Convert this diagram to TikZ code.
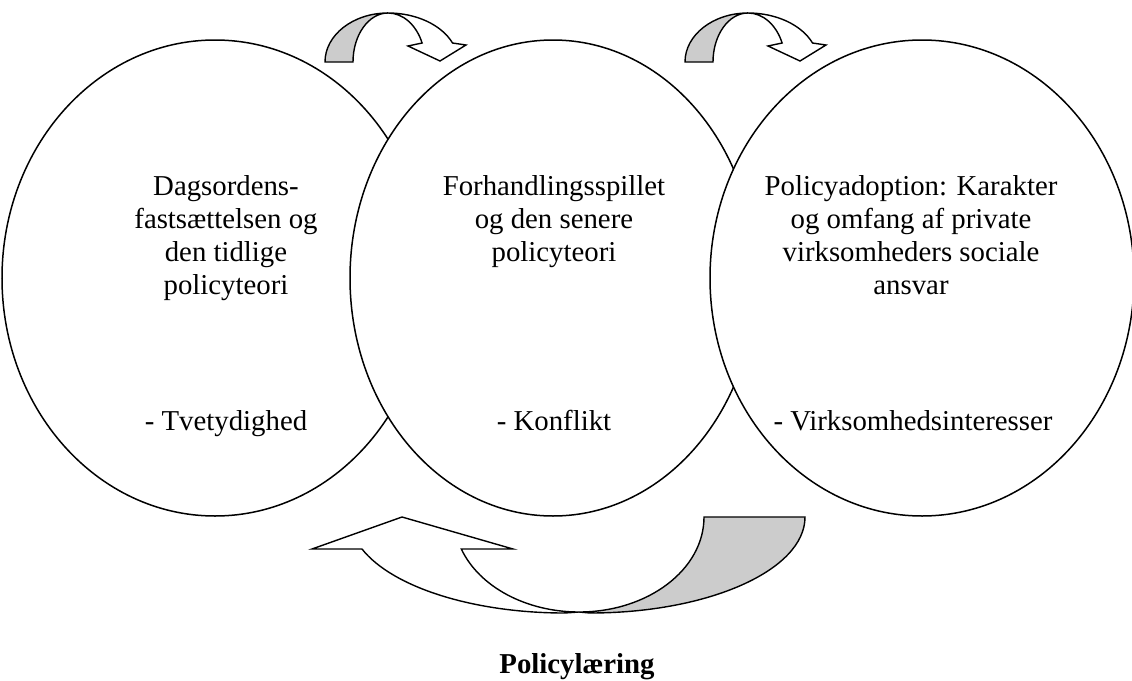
\documentclass[tikz,border=0pt]{standalone}
\usepackage{fontspec}
\setmainfont{Liberation Serif}
\usetikzlibrary{shapes.geometric}
\definecolor{bandgrey}{RGB}{204,204,204}
\begin{document}
\begin{tikzpicture}[x=1pt,y=-1pt,
  stage/.style={ellipse, draw=black, fill=white, line width=1.5pt, inner sep=0pt, outer sep=0pt},
  lbl/.style={align=center, font=\fontsize{28.8}{33.1}\selectfont, inner sep=0pt, anchor=base},
  band/.style={draw=black, line width=1.4pt, line join=miter},
]
\useasboundingbox (0,0) rectangle (1132,680);
\clip (0,0) rectangle (1132,680);
% stages
\node[stage, minimum width=426pt, minimum height=476pt] (left) at (215,278) {};
\node[stage, minimum width=406pt, minimum height=476pt] (mid) at (553,278) {};
\node[stage, minimum width=424pt, minimum height=476pt] (right) at (922,278) {};
% texts (base anchor = baseline of the last line)
\node[lbl] (t1) at (226,294.3) {Dagsordens-\\fastsættelsen og\\den tidlige\\policyteori};
\node[lbl] (t2) at (554,261.2) {Forhandlingsspillet\\og den senere\\policyteori};
\node[lbl] (t3) at (911,294.3) {Policyadoption: Karakter\\og omfang af private\\virksomheders sociale\\ansvar};
\node[lbl] (d1) at (226,430) {- Tvetydighed};
\node[lbl] (d2) at (554,430) {- Konflikt};
\node[lbl] (d3) at (913,430) {- Virksomhedsinteresser};
\node[lbl, font=\bfseries\fontsize{28.8}{33.1}\selectfont] (pl) at (577,673) {Policylæring};
% top curved arrows
\foreach \dx in {0,360}{
\begin{scope}[xshift=\dx pt]
\path[band, fill=bandgrey] (325,62) arc[start angle=180, end angle=90, x radius=63pt, y radius=49pt]
   arc[start angle=90, end angle=180, x radius=35pt, y radius=49pt] -- cycle;
\path[band, fill=white] (388,13) arc[start angle=90, end angle=22.8, x radius=70pt, y radius=49pt]
   -- (466,45) -- (440,61) -- (408,46) -- (422.1,43)
   arc[start angle=22.8, end angle=90, x radius=37pt, y radius=49pt] -- cycle;
\end{scope}
}
% bottom curved arrow (policy learning)
\path[band, fill=bandgrey] (704,517) -- (805,517)
   arc[start angle=0, end angle=-90, x radius=215pt, y radius=96pt]
   -- (579,612)
   arc[start angle=-90, end angle=0, x radius=125pt, y radius=95pt] -- cycle;
\path[band, fill=white] (579,612)
   arc[start angle=-90, end angle=-160.32, x radius=125pt, y radius=95pt]
   -- (513,549) -- (402,517) -- (312,549) -- (362,549)
   arc[start angle=-160.53, end angle=-90, x radius=215pt, y radius=96pt]
   -- cycle;
\end{tikzpicture}
\end{document}
